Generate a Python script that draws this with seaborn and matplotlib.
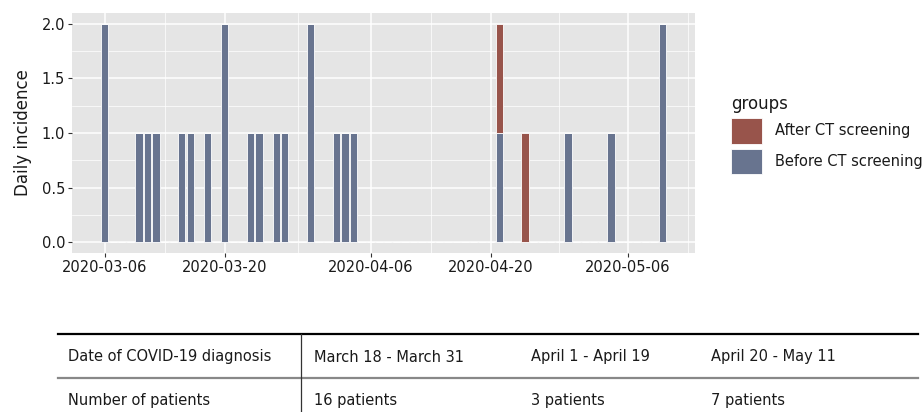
import numpy as np
import pandas as pd
import matplotlib
matplotlib.use("Agg")
import matplotlib.pyplot as plt
import matplotlib.dates as mdates
from matplotlib.patches import Patch
from matplotlib.ticker import FixedLocator, MultipleLocator, FormatStrFormatter
import seaborn as sns

# daily incidence
dates_before = ['2020-03-06', '2020-03-10', '2020-03-11', '2020-03-12', '2020-03-15',
                '2020-03-16', '2020-03-18', '2020-03-20', '2020-03-23', '2020-03-24',
                '2020-03-26', '2020-03-27', '2020-03-30', '2020-04-02', '2020-04-03',
                '2020-04-04', '2020-04-21', '2020-04-29', '2020-05-04', '2020-05-10']
counts_before = [2, 1, 1, 1, 1, 1, 1, 2, 1, 1, 1, 1, 2, 1, 1, 1, 1, 1, 1, 2]
dates_after = ['2020-04-21', '2020-04-24']
counts_after = [1, 1]

group_names = ['After CT screening', 'Before CT screening']
group_colors = ['#98544b', '#68748f']

x_breaks = ['2020-03-06', '2020-03-20', '2020-04-06', '2020-04-20', '2020-05-06']
x_minor = ['2020-03-13 00:00', '2020-03-28 12:00', '2020-04-13 00:00', '2020-04-28 00:00', '2020-05-13 00:00']

table_header = ['Date of COVID-19 diagnosis', 'March 18 - March 31', 'April 1 - April 19', 'April 20 - May 11']
table_row = ['Number of patients', '16 patients', '3 patients', '7 patients']

# data frame for seaborn
df = pd.concat([
    pd.DataFrame({'date': dates_before, 'n': counts_before, 'groups': group_names[1]}),
    pd.DataFrame({'date': dates_after, 'n': counts_after, 'groups': group_names[0]}),
])
df['day'] = mdates.date2num(pd.to_datetime(df['date']))

plt.rcParams['font.family'] = ['DejaVu Sans']
txt_col = '#1a1a1a'

fig = plt.figure(figsize=(9.24, 4.12), dpi=100)
W, H = 924, 412
ax = fig.add_axes([72 / W, 1 - 253 / H, (695 - 72) / W, (253 - 13) / H])
ax.set_facecolor('#e5e5e5')

sns.histplot(data=df, x='day', weights='n', hue='groups', hue_order=group_names,
             palette=group_colors, multiple='stack', discrete=True, shrink=0.85,
             edgecolor='white', linewidth=0.6, alpha=1, legend=False, ax=ax, zorder=3)

# ggplot style expansion of x range
lo = df['day'].min() - 0.5
hi = df['day'].max() + 0.5
pad = (hi - lo) * 0.05
ax.set_xlim(lo - pad, hi + pad)
ax.set_ylim(-0.1, 2.1)

ax.xaxis.set_major_locator(FixedLocator(mdates.date2num(pd.to_datetime(x_breaks))))
ax.xaxis.set_minor_locator(FixedLocator(mdates.date2num(pd.to_datetime(x_minor))))
ax.set_xticklabels(x_breaks)
ax.yaxis.set_major_locator(MultipleLocator(0.5))
ax.yaxis.set_minor_locator(MultipleLocator(0.25))
ax.yaxis.set_major_formatter(FormatStrFormatter('%.1f'))

ax.grid(which='major', color='white', linewidth=1.1)
ax.grid(which='minor', color='white', linewidth=0.5)
ax.set_axisbelow(True)
for s in ax.spines.values():
    s.set_visible(False)
ax.tick_params(which='major', length=3, color='#333333', labelsize=10.5,
               labelcolor=txt_col, pad=2)
ax.tick_params(which='minor', length=0)
ax.set_xlabel('')
ax.set_ylabel('Daily incidence', fontsize=12, color=txt_col, labelpad=7)

handles = [Patch(facecolor=c, edgecolor='white', linewidth=0.6) for c in group_colors]
leg = fig.legend(handles, group_names, title='groups', loc='upper left',
                 bbox_to_anchor=(718 / W, 1 - 82 / H), frameon=False,
                 fontsize=10.5, title_fontsize=12, handlelength=2.1, handleheight=2.3,
                 handletextpad=0.9, labelspacing=0.35, alignment='left')
for t in leg.get_texts():
    t.set_color(txt_col)
leg.get_title().set_color(txt_col)

# table under the chart, drawn in pixel coordinates
tax = fig.add_axes([0, 0, 1, 1])
tax.set_xlim(0, W)
tax.set_ylim(H, 0)
tax.axis('off')
tax.plot([58, 918], [334, 334], color='black', linewidth=1.6)
tax.plot([58, 918], [378, 378], color='#888888', linewidth=1.6)
tax.plot([301, 301], [334, H], color='#333333', linewidth=0.9)
col_x = [68, 314, 531, 711]
for x, a, b in zip(col_x, table_header, table_row):
    tax.text(x, 357, a, fontsize=10.5, color=txt_col, va='center', ha='left')
    tax.text(x, 400, b, fontsize=10.5, color=txt_col, va='center', ha='left')

fig.savefig('out.png', dpi=100)
